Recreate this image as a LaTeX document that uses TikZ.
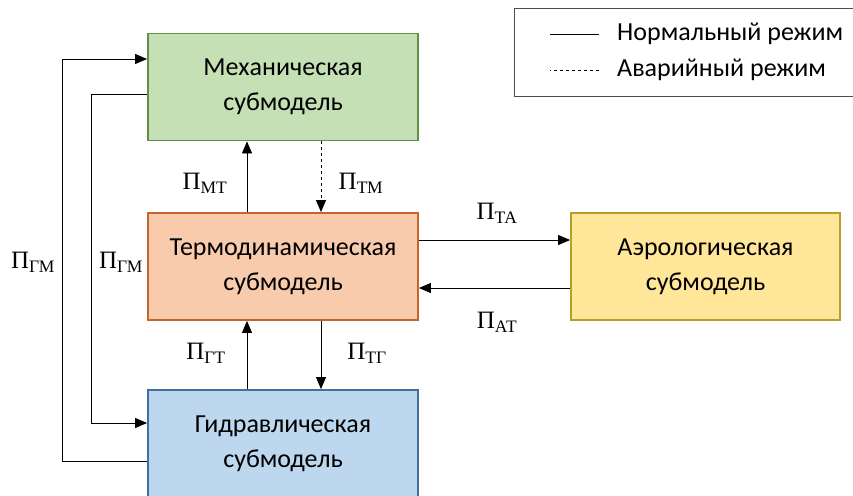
\documentclass[tikz,border=0pt]{standalone}
\usepackage{fontspec}
\setmainfont{Carlito}
\newfontfamily\labfont{Liberation Serif}
\usetikzlibrary{arrows.meta}
\definecolor{mechfill}{HTML}{C5E0B4}
\definecolor{mechline}{HTML}{628F48}
\definecolor{thermfill}{HTML}{F8CBAD}
\definecolor{thermline}{HTML}{C4652C}
\definecolor{hydrofill}{HTML}{BDD7EE}
\definecolor{hydroline}{HTML}{41709F}
\definecolor{aerofill}{HTML}{FFE699}
\definecolor{aeroline}{HTML}{B89E2A}
\tikzset{
  submodel/.style={draw, line width=1.8pt, minimum width=270pt, minimum height=107pt, align=center, inner sep=0pt},
  link/.style={-{Triangle[length=12pt,width=10pt]}, line width=0.8pt},
  flow/.style={inner sep=0pt, font=\fontsize{25}{30}\selectfont},
}
\newcommand{\flux}[1]{{\labfont Π\textsubscript{#1}}}
\begin{document}
\begin{tikzpicture}[x=1pt,y=-1pt,font=\fontsize{26}{35}\selectfont]
        \useasboundingbox (0,0) rectangle (853,495);
        % submodels
        \node [submodel, draw=mechline, fill=mechfill] (mech) at (283,87) {Механическая\\субмодель};
        \node [submodel, draw=thermline, fill=thermfill] (thermo) at (283,266.5) {Термодинамическая\\субмодель};
        \node [submodel, draw=hydroline, fill=hydrofill] (hydro) at (283,443.5) {Гидравлическая\\субмодель};
        \node [submodel, draw=aeroline, fill=aerofill, minimum width=269pt] (aero) at (705.5,266.5) {Аэрологическая\\субмодель};
        % legend
        \node [draw=black!70, line width=1pt, minimum width=346pt, minimum height=87pt] (legend) at (687,52.5) {};
        \node [anchor=west, inner sep=0pt] (normal) at (617,34) {Нормальный режим};
        \node [anchor=west, inner sep=0pt] (fault) at (617,70) {Аварийный режим};
        \draw [line width=0.8pt] ([xshift=-18pt]normal.west) -- ++(-49,0);
        \draw [line width=0.8pt, dashed] ([xshift=-18pt]fault.west) -- ++(-49,0);
        % helper coordinates
        \coordinate (left) at (247,0);
        \coordinate (right) at (321,0);
        \coordinate (upper) at (0,240);
        \coordinate (lower) at (0,288);
        \coordinate (outer) at (62,0);
        \coordinate (inner) at (91,0);
        \coordinate (r1) at (0,59);
        \coordinate (r2) at (0,94);
        \coordinate (r3) at (0,423);
        \coordinate (r4) at (0,461);
        % links
        \draw [link] (thermo.north -| left) -- (mech.south -| left);
        \draw [link, dashed] (mech.south -| right) -- (thermo.north -| right);
        \draw [link] (hydro.north -| left) -- (thermo.south -| left);
        \draw [link] (thermo.south -| right) -- (hydro.north -| right);
        \draw [link] (thermo.east |- upper) -- (aero.west |- upper);
        \draw [link] (aero.west |- lower) -- (thermo.east |- lower);
        \draw [link] (hydro.west |- r4) -| (outer |- r1) -- (mech.west |- r1);
        \draw [link] (mech.west |- r2) -| (inner |- r3) -- (hydro.west |- r3);
        % labels
        \node [flow] (pmt) at (205,183) {\flux{МТ}};
        \node [flow] (ptm) at (361,183) {\flux{ТМ}};
        \node [flow] (pgt) at (206,353) {\flux{ГТ}};
        \node [flow] (ptg) at (367,353) {\flux{ТГ}};
        \node [flow] (pta) at (497,213) {\flux{ТА}};
        \node [flow] (pat) at (497,322) {\flux{АТ}};
        \node [flow] (pgmo) at (33,262) {\flux{ГМ}};
        \node [flow] (pgmi) at (121,262) {\flux{ГМ}};
    \end{tikzpicture}
\end{document}
